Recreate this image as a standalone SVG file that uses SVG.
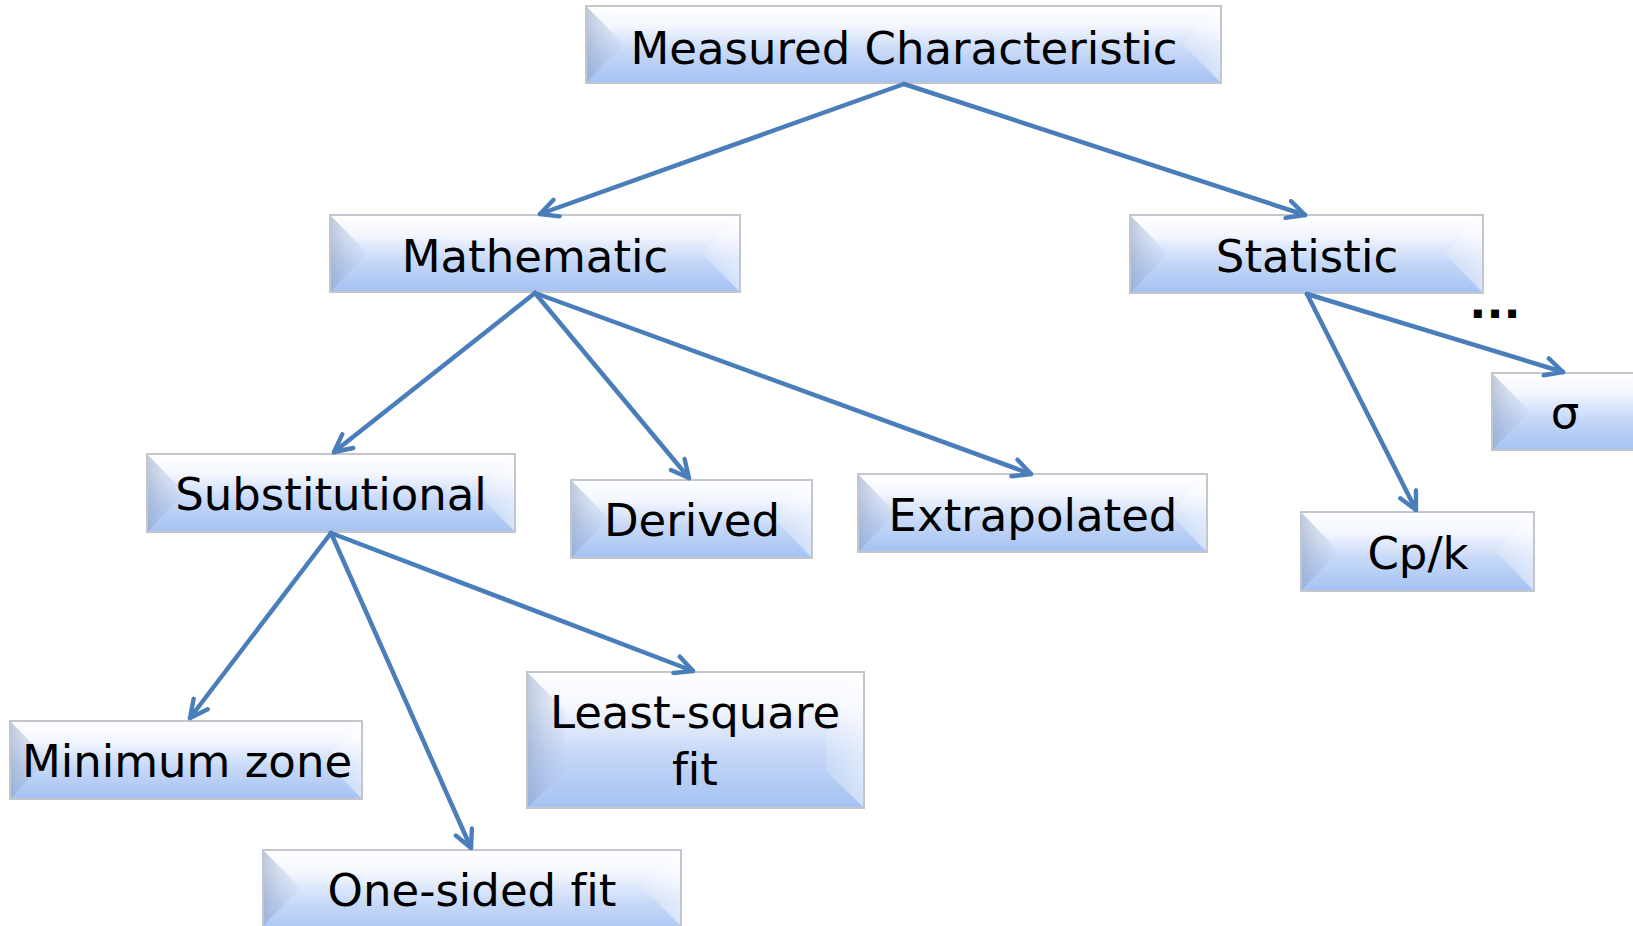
<svg xmlns="http://www.w3.org/2000/svg" width="1633" height="926" viewBox="0 0 1633 926">
<defs>
<linearGradient id="bg" x1="0" y1="0" x2="0" y2="1">
<stop offset="0" stop-color="#ffffff"/>
<stop offset="0.25" stop-color="#f4f7fe"/>
<stop offset="0.6" stop-color="#c6d8f8"/>
<stop offset="1" stop-color="#a4c2f2"/>
</linearGradient>
<linearGradient id="lb" x1="0" y1="0" x2="1" y2="0">
<stop offset="0" stop-color="#8ea2c4" stop-opacity="0.55"/>
<stop offset="1" stop-color="#b8c8e6" stop-opacity="0.15"/>
</linearGradient>
<linearGradient id="rb" x1="0" y1="0" x2="1" y2="0">
<stop offset="0" stop-color="#ffffff" stop-opacity="0.15"/>
<stop offset="1" stop-color="#ffffff" stop-opacity="0.5"/>
</linearGradient>
<marker id="ah" viewBox="0 0 20 20" refX="18" refY="10" markerWidth="22" markerHeight="22" markerUnits="userSpaceOnUse" orient="auto">
<path d="M2,2 L18,10 L2,18" fill="none" stroke="#4a7ebb" stroke-width="4" stroke-linecap="round" stroke-linejoin="round"/>
</marker>
</defs>
<style>
.box{fill:url(#bg);stroke:#c3c6cc;stroke-width:2}
.lb{fill:url(#lb)}
.rb{fill:url(#rb)}
.t{font-family:"DejaVu Sans","Liberation Sans",sans-serif;font-size:45px;fill:#000;text-anchor:middle;font-variant-ligatures:none}
.c{fill:none;stroke:#4a7ebb;stroke-width:4.5;stroke-linecap:round;marker-end:url(#ah)}
</style>
<rect width="1633" height="926" fill="#ffffff"/>

<g id="n-measured">
<rect class="box" x="586" y="6" width="635" height="77"/>
<path class="lb" d="M587,7 L624,44.5 L587,82 Z"/>
<path class="rb" d="M1220,7 L1183,44.5 L1220,82 Z"/>
<text class="t" x="904" y="64">Measured Characteristic</text>
</g>

<g id="n-mathematic">
<rect class="box" x="330" y="215" width="410" height="77"/>
<path class="lb" d="M331,216 L368,253.5 L331,291 Z"/>
<path class="rb" d="M739,216 L702,253.5 L739,291 Z"/>
<text class="t" x="535" y="272">Mathematic</text>
</g>

<g id="n-statistic">
<rect class="box" x="1130" y="215" width="353" height="78"/>
<path class="lb" d="M1131,216 L1168,254 L1131,292 Z"/>
<path class="rb" d="M1482,216 L1445,254 L1482,292 Z"/>
<text class="t" x="1307" y="272">Statistic</text>
</g>

<g id="n-substitutional">
<rect class="box" x="147" y="454" width="368" height="78"/>
<path class="lb" d="M148,455 L185,493 L148,531 Z"/>
<path class="rb" d="M514,455 L477,493 L514,531 Z"/>
<text class="t" x="331" y="510">Substitutional</text>
</g>

<g id="n-derived">
<rect class="box" x="571" y="480" width="241" height="78"/>
<path class="lb" d="M572,481 L609,519 L572,557 Z"/>
<path class="rb" d="M811,481 L774,519 L811,557 Z"/>
<text class="t" x="692" y="536">Derived</text>
</g>

<g id="n-extrapolated">
<rect class="box" x="858" y="474" width="349" height="78"/>
<path class="lb" d="M859,475 L896,513 L859,551 Z"/>
<path class="rb" d="M1206,475 L1169,513 L1206,551 Z"/>
<text class="t" x="1033" y="531">Extrapolated</text>
</g>

<g id="n-sigma">
<rect class="box" x="1492" y="373" width="150" height="77"/>
<path class="lb" d="M1493,374 L1530,411.5 L1493,449 Z"/>
<text class="t" x="1565" y="428">σ</text>
</g>

<g id="n-cpk">
<rect class="box" x="1301" y="512" width="233" height="79"/>
<path class="lb" d="M1302,513 L1339,551.5 L1302,590 Z"/>
<path class="rb" d="M1533,513 L1496,551.5 L1533,590 Z"/>
<text class="t" x="1418" y="569">Cp/k</text>
</g>

<g id="n-minzone">
<rect class="box" x="10" y="721" width="352" height="78"/>
<path class="lb" d="M11,722 L48,760 L11,798 Z"/>
<path class="rb" d="M361,722 L324,760 L361,798 Z"/>
<text class="t" x="187" y="777">Minimum zone</text>
</g>

<g id="n-leastsquare">
<rect class="box" x="527" y="672" width="337" height="136"/>
<path class="lb" d="M528,673 L565,710 L565,771 L528,807 Z"/>
<path class="rb" d="M863,673 L826,710 L826,771 L863,807 Z"/>
<text class="t" x="695" y="728">Least-square</text>
<text class="t" x="695" y="785">fit</text>
</g>

<g id="n-onesided">
<rect class="box" x="263" y="850" width="418" height="90"/>
<path class="lb" d="M264,851 L301,888 L264,925 Z"/>
<path class="rb" d="M680,851 L643,888 L680,925 Z"/>
<text class="t" x="472" y="906">One-sided fit</text>
</g>

<text class="t" x="1495" y="318" font-weight="bold">...</text>

<g id="connectors">
<line class="c" x1="904" y1="84" x2="540" y2="214"/>
<line class="c" x1="904" y1="84" x2="1305" y2="215"/>
<line class="c" x1="535" y1="293" x2="334" y2="452"/>
<line class="c" x1="535" y1="293" x2="689" y2="478"/>
<line class="c" x1="535" y1="293" x2="1031" y2="474"/>
<line class="c" x1="1307" y1="294" x2="1563" y2="372"/>
<line class="c" x1="1307" y1="294" x2="1416" y2="510"/>
<line class="c" x1="331" y1="533" x2="190" y2="718"/>
<line class="c" x1="331" y1="533" x2="471" y2="848"/>
<line class="c" x1="331" y1="533" x2="693" y2="671"/>
</g>
</svg>
